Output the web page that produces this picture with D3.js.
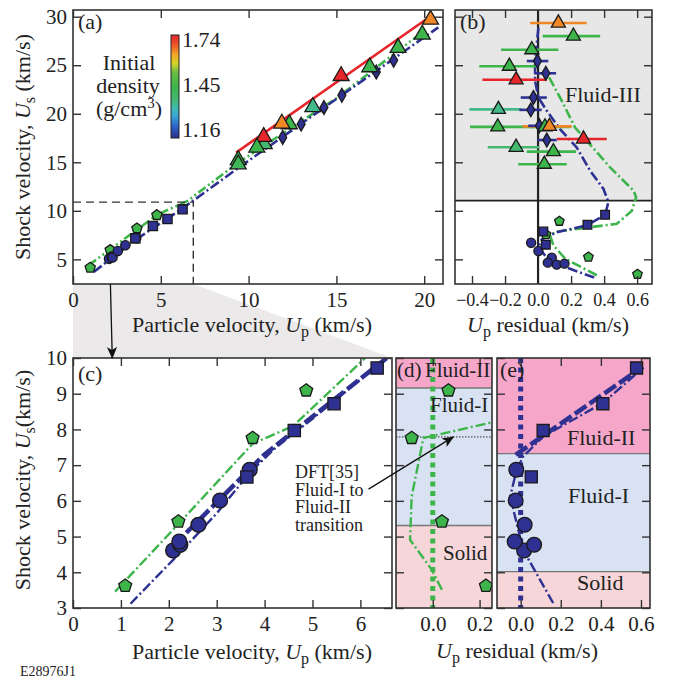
<!DOCTYPE html>
<html>
<head>
<meta charset="utf-8">
<script src="https://cdn.jsdelivr.net/npm/d3@7"></script>
<style>
body { margin: 0; background: #fff; }
text { font-family: "Liberation Serif", "Times New Roman", serif; fill: #222; }
</style>
</head>
<body>
<script>
// ---- data ----

// (a) low-velocity points (Up, Us) as drawn in panel (a)
var upCircA = [2.05, 2.2, 2.25, 2.55, 2.98, 3.6];
var usCircA = [5.05, 5.3, 5.2, 5.85, 6.45, 7.2];
var upSqA = [3.55, 4.55, 5.38, 6.24];
var usSqA = [7.16, 8.43, 9.15, 10.15];
var upPentA = [0.98, 2.12, 3.64, 4.78];
var usPentA = [4.14, 5.96, 8.19, 9.56];

// (a) high-velocity points
var upDia = [11.94, 12.99, 14.29, 15.31, 17.27, 18.26];
var usDia = [17.56, 18.93, 20.64, 21.9, 24.3, 25.5];
var upTri = [20.36, 19.89, 18.51, 16.9, 15.27, 13.66, 12.32, 11.89, 10.89, 10.86, 10.47, 9.41, 9.41];
var usTri = [29.7, 28.17, 26.8, 24.8, 23.9, 20.7, 18.93, 19.0, 16.88, 17.63, 16.53, 15.24, 14.8];
var rhoTri = [1.65, 1.45, 1.45, 1.45, 1.74, 1.36, 1.45, 1.65, 1.38, 1.74, 1.45, 1.45, 1.42];

// (a) fits
var fitGreenA = [[0.9, 4.4], [2.1, 6.0], [3.6, 8.0], [4.8, 9.6], [6.5, 11.0], [9.4, 14.95], [15, 21.6], [20.0, 28.55]];
var fitBlueA = [[1.18, 3.7], [3.55, 7.0], [6.2, 10.2], [9.4, 14.4], [20.8, 28.9]];
var fitRedA = [[9.29, 16.0], [20.36, 30.05]];

// (b) residuals
var usTriB = [29.35, 28.0, 26.6, 24.9, 23.5, 20.45, 18.65, 18.65, 18.7, 17.4, 16.55, 16.1, 14.8];
var resTriB = [0.123, 0.214, -0.038, -0.174, -0.133, -0.24, -0.244, 0.042, 0.069, 0.275, -0.133, 0.093, 0.038];
var loTriB = [-0.048, 0.028, -0.224, -0.356, -0.337, -0.416, -0.412, -0.05, -0.093, 0.113, -0.305, -0.068, -0.12];
var hiTriB = [0.295, 0.376, 0.123, -0.012, 0.053, -0.1, -0.02, 0.2, 0.204, 0.416, 0.008, 0.23, 0.174];
var rhoTriB = [1.65, 1.45, 1.45, 1.45, 1.74, 1.36, 1.45, 1.45, 1.65, 1.74, 1.38, 1.45, 1.45];

var usDiaB = [25.43, 24.17, 21.67, 20.4, 18.76, 17.29];
var resDiaB = [-0.004, 0.047, -0.028, -0.044, 0.008, 0.053];
var loDiaB = [-0.068, -0.024, -0.105, -0.113, -0.06, -0.004];
var hiDiaB = [0.062, 0.109, 0.053, 0.022, 0.07, 0.113];

var usSqB = [9.59, 8.56, 7.87, 6.51];
var resSqB = [0.406, 0.299, 0.032, 0.047];
var usCircB = [6.71, 5.86, 5.17, 4.66, 4.46, 4.56];
var resCircB = [-0.042, 0.002, 0.083, 0.059, 0.113, 0.16];
var usPentB = [8.93, 7.56, 5.24, 3.46];
var resPentB = [0.129, 0.048, 0.305, 0.602];

var fitBlueB = [[0.34, 3.12], [0.164, 4.21], [0.053, 5.17], [0.002, 6.26], [0.022, 7.05], [0.113, 7.8], [0.295, 8.49],
  [0.406, 9.59], [0.426, 10.9], [0.396, 12.26], [0.315, 14.14], [0.234, 16.53], [0.133, 18.42], [0.053, 20.3],
  [0.002, 21.67], [-0.018, 23.38], [-0.018, 25.5], [0.002, 28.85]];
var fitGreenB = [[0.356, 3.36], [0.164, 5.07], [0.093, 6.44], [0.073, 7.46], [0.113, 7.87], [0.477, 8.66],
  [0.568, 10.0], [0.594, 11.4], [0.578, 12.08], [0.436, 14.48], [0.224, 18.58], [0.144, 21.32], [0.062, 23.9]];
var fluid3From = 11.06;

// (c) zoom of low-velocity data
var upCirc = [2.09, 2.24, 2.22, 2.62, 3.07, 3.69];
var usCirc = [4.61, 4.77, 4.86, 5.33, 6.01, 6.87];
var upSq = [3.63, 4.62, 5.45, 6.35];
var usSq = [6.67, 7.97, 8.72, 9.72];
var upPent = [1.09, 2.2, 3.75, 4.87];
var usPent = [3.62, 5.42, 7.76, 9.09];

var fitGreenC = [[0.88, 3.46], [2.2, 5.35], [3.75, 7.6], [4.6, 8.1], [6.1, 10.0]];
var fitBlueThinC = [[1.2, 3.12], [2.2, 4.5], [3.0, 5.65], [3.7, 6.8], [4.2, 7.45], [5.0, 8.3], [6.55, 10.0]];
var fitBlueThickC = [[2.1, 4.75], [4.0, 7.3], [6.55, 10.0]];

// (d) residuals of the green pentagons (same order as usPent)
var resPentD = [0.227, 0.039, -0.09, 0.067];
var fitGreenD = [[0.039, 3.51], [-0.004, 4.07], [-0.097, 4.91], [-0.09, 6.12], [-0.04, 7.76], [-0.019, 7.79], [0.3, 8.27]];
var dftTransition = 7.79;
var bandsD = [["Fluid-II", 9.16, 10], ["Fluid-I", 5.31, 9.16], ["Solid", 3, 5.31]];

// (e) residuals of blue squares and circles (same order as usSq, usCirc)
var resSqE = [0.053, 0.112, 0.41, 0.578];
var resCircE = [0.017, 0.067, -0.03, 0.02, -0.025, -0.022];
var fitBlueThinE = [[0.162, 3.14], [0.012, 4.63], [-0.052, 6.12], [-0.022, 6.83], [0.012, 7.24], [0.112, 7.8], [0.41, 8.74], [0.61, 9.72]];
var fitBlueThickE = [[-0.025, 7.29], [0.61, 9.76]];
var bandsE = [["Fluid-II", 7.32, 10], ["Fluid-I", 4.02, 7.32], ["Solid", 3, 4.02]];

// colour bar
var rhoStops = [1.16, 1.22, 1.28, 1.33, 1.38, 1.45, 1.53, 1.58, 1.63, 1.68, 1.74];
var rhoColors = ["#2b2d8c", "#2d5fc4", "#3aa0d8", "#40bcb0", "#45b870", "#3db54a", "#6cbd45", "#d7d428", "#f3a626", "#ee5a2a", "#e6262a"];

var blue = "#2e3192", green = "#3db54a", red = "#e6262a";
var bandFill = { "Fluid-II": "#f5a6c9", "Fluid-I": "#d8e2f3", "Solid": "#f6d6d9" };

var rhoColor = d3.scaleLinear().domain(rhoStops).range(rhoColors);

var svg = d3.select("body").append("svg")
  .attr("width", 674)
  .attr("height", 681);

var defs = svg.append("defs");
defs.append("marker")
  .attr("id", "arr")
  .attr("viewBox", "0 0 12 10")
  .attr("refX", 11).attr("refY", 5)
  .attr("markerWidth", 12).attr("markerHeight", 10)
  .attr("markerUnits", "userSpaceOnUse")
  .attr("orient", "auto")
  .append("path").attr("d", "M0,0 L12,5 L0,10 L3,5 Z").style("fill", "#111");

// pentagon symbol
var symbolPentagon = {
  draw: function (ctx, size) {
    var r = Math.sqrt(size / 2.378);
    for (var k = 0; k < 5; k++) {
      var a = -Math.PI / 2 + k * 2 * Math.PI / 5;
      if (k === 0) ctx.moveTo(r * Math.cos(a), r * Math.sin(a));
      else ctx.lineTo(r * Math.cos(a), r * Math.sin(a));
    }
    ctx.closePath();
  }
};

function panel(x0, x1, y0, y1, xd, yd, id) {
  var x = d3.scaleLinear().domain(xd).range([x0, x1]);
  var y = d3.scaleLinear().domain(yd).range([y1, y0]);
  defs.append("clipPath").attr("id", id).append("rect")
    .attr("x", x0).attr("y", y0).attr("width", x1 - x0).attr("height", y1 - y0);
  var bg = svg.append("g").attr("clip-path", "url(#" + id + ")");
  var g = svg.append("g").attr("clip-path", "url(#" + id + ")");
  var top = svg.append("g");
  return { x: x, y: y, bg: bg, g: g, top: top, x0: x0, x1: x1, y0: y0, y1: y1 };
}

function axes(p, xt, yt, xfmt, yfmt, fs) {
  var tl = 8, none = function () { return ""; };
  var sides = [
    [d3.axisBottom(p.x).tickValues(xt).tickFormat(xfmt || none), "translate(0," + p.y1 + ")"],
    [d3.axisTop(p.x).tickValues(xt).tickFormat(none), "translate(0," + p.y0 + ")"],
    [d3.axisLeft(p.y).tickValues(yt).tickFormat(yfmt || none), "translate(" + p.x0 + ",0)"],
    [d3.axisRight(p.y).tickValues(yt).tickFormat(none), "translate(" + p.x1 + ",0)"]
  ];
  sides.forEach(function (s, i) {
    var ax = p.top.append("g").attr("transform", s[1])
      .call(s[0].tickSizeInner(-tl).tickSizeOuter(0).tickPadding(i === 2 ? 6 : 8));
    ax.select(".domain").remove();
    ax.selectAll("line").style("stroke", "#333").style("stroke-width", 1.4);
    ax.selectAll("text").style("font-size", (fs || 21) + "px").style("fill", "#222")
      .style("font-family", '"Liberation Serif","Times New Roman",serif');
  });
  p.top.append("rect")
    .attr("x", p.x0).attr("y", p.y0)
    .attr("width", p.x1 - p.x0).attr("height", p.y1 - p.y0)
    .style("fill", "none").style("stroke", "#333").style("stroke-width", 1.6);
}

function drawLine(p, pts, color, width, dash) {
  p.g.append("path").datum(pts)
    .attr("d", d3.line().x(function (d) { return p.x(d[0]); }).y(function (d) { return p.y(d[1]); }))
    .style("fill", "none")
    .style("stroke", color)
    .style("stroke-width", width)
    .style("stroke-dasharray", dash);
}

function marks(p, xs, ys, type, size, fills) {
  p.g.append("g").selectAll("path").data(d3.zip(xs, ys, fills)).join("path")
    .attr("transform", function (d) { return "translate(" + p.x(d[0]) + "," + p.y(d[1]) + ")"; })
    .attr("d", d3.symbol(type, size))
    .style("fill", function (d) { return d[2]; })
    .style("stroke", "#1a1a1a")
    .style("stroke-width", 1.3);
}

function fill(n, c) { return d3.range(n).map(function () { return c; }); }

function label(x, y, txt, size, anchor) {
  return svg.append("text").attr("x", x).attr("y", y)
    .style("font-size", (size || 22) + "px")
    .attr("text-anchor", anchor || "start")
    .text(txt);
}

// axis title with italic U and subscript
function upTitle(t, pre, sub, post) {
  t.append("tspan").text(pre);
  t.append("tspan").style("font-style", "italic").text("U");
  t.append("tspan").attr("dy", 5).style("font-size", "16px").text(sub);
  t.append("tspan").attr("dy", -5).text(post);
}

// ---------- zoom wedge between (a) and (c)
var A = panel(73, 443, 10, 284, [0, 21.07], [2.46, 30.69], "ca");
var C = panel(73, 392, 358, 608, [0, 6.66], [3, 10], "cc");
var zoomBox = [6.85, 10.9];

svg.insert("path", ":first-child")
  .attr("d", d3.line()([[A.x(0), A.y1], [A.x(zoomBox[0]), A.y1], [C.x1, C.y0], [C.x0, C.y0]]))
  .style("fill", "#ebe9ea");

// ---------- panel (a)
drawLine(A, fitRedA, red, 2.6, null);
drawLine(A, fitGreenA, green, 2.6, "9,3,2,3,2,3");
drawLine(A, fitBlueA, blue, 2.6, "10,3,2,3");
marks(A, upPentA, usPentA, symbolPentagon, 70, fill(4, green));
marks(A, upCircA, usCircA, d3.symbolCircle, 68, fill(6, blue));
marks(A, upSqA, usSqA, d3.symbolSquare, 85, fill(4, blue));
marks(A, upDia, usDia, d3.symbolDiamond, 55, fill(6, blue));
marks(A, upTri, usTri, d3.symbolTriangle, 110, rhoTri.map(rhoColor));
A.top.append("path")
  .attr("d", d3.line()([[A.x0, A.y(zoomBox[1])], [A.x(zoomBox[0]), A.y(zoomBox[1])], [A.x(zoomBox[0]), A.y1]]))
  .style("fill", "none").style("stroke", "#333").style("stroke-width", 1.4).style("stroke-dasharray", "8,5");
axes(A, [0, 5, 10, 15, 20], [5, 10, 15, 20, 25, 30], d3.format("d"), d3.format("d"));
label(78, 29, "(a)");

// colour bar
var grad = defs.append("linearGradient").attr("id", "rho")
  .attr("x1", 0).attr("y1", 1).attr("x2", 0).attr("y2", 0);
rhoStops.forEach(function (r, i) {
  grad.append("stop").attr("offset", (r - 1.16) / 0.58).attr("stop-color", rhoColors[i]);
});
svg.append("rect").attr("x", 171).attr("y", 35).attr("width", 8).attr("height", 103)
  .style("fill", "url(#rho)").style("stroke", "#222").style("stroke-width", 1);
label(182, 47, "1.74");
label(182, 92, "1.45");
label(182, 137, "1.16");
label(129, 70, "Initial", 22, "middle");
label(128, 93, "density", 22, "middle");
var gcm = label(129, 116, "(g/cm", 22, "middle");
gcm.append("tspan").attr("dy", -8).style("font-size", "15px").text("3");
gcm.append("tspan").attr("dy", 8).text(")");

upTitle(label(252, 332, "", 22, "middle"), "Particle velocity, ", "p", " (km/s)");
upTitle(label(0, 0, "", 22, "middle").attr("transform", "translate(30,147) rotate(-90)"), "Shock velocity, ", "s", " (km/s)");

// ---------- panel (b)
var B = panel(455, 652, 10, 284, [-0.503, 0.69], [2.46, 30.69], "cb");
B.bg.append("rect").attr("x", B.x0).attr("y", B.y0)
  .attr("width", B.x1 - B.x0).attr("height", B.y(fluid3From) - B.y0)
  .style("fill", "#e7e7e7");
B.g.append("line").attr("x1", B.x(0)).attr("x2", B.x(0)).attr("y1", B.y0).attr("y2", B.y1)
  .style("stroke", "#222").style("stroke-width", 2.2);
B.g.append("line").attr("x1", B.x0).attr("x2", B.x1).attr("y1", B.y(fluid3From)).attr("y2", B.y(fluid3From))
  .style("stroke", "#222").style("stroke-width", 1.8);
drawLine(B, fitGreenB, green, 2.6, "10,3,2,3");
drawLine(B, fitBlueB, blue, 2.6, "10,3,2,3");

B.g.append("g").selectAll("line").data(d3.zip(usTriB, loTriB, hiTriB, rhoTriB)).join("line")
  .attr("x1", function (d) { return B.x(d[1]); })
  .attr("x2", function (d) { return B.x(d[2]); })
  .attr("y1", function (d) { return B.y(d[0]); })
  .attr("y2", function (d) { return B.y(d[0]); })
  .style("stroke", function (d) { return rhoColor(d[3]); })
  .style("stroke-width", 2.6);
B.g.append("g").selectAll("line").data(d3.zip(usDiaB, loDiaB, hiDiaB)).join("line")
  .attr("x1", function (d) { return B.x(d[1]); })
  .attr("x2", function (d) { return B.x(d[2]); })
  .attr("y1", function (d) { return B.y(d[0]); })
  .attr("y2", function (d) { return B.y(d[0]); })
  .style("stroke", blue)
  .style("stroke-width", 2.6);

marks(B, resPentB, usPentB, symbolPentagon, 60, fill(4, green));
marks(B, resCircB, usCircB, d3.symbolCircle, 65, fill(6, blue));
marks(B, resSqB, usSqB, d3.symbolSquare, 75, fill(4, blue));
marks(B, resDiaB, usDiaB, d3.symbolDiamond, 55, fill(6, blue));
marks(B, resTriB, usTriB, d3.symbolTriangle, 85, rhoTriB.map(rhoColor));
axes(B, [-0.4, -0.2, 0.2, 0.4, 0.6], [5, 10, 15, 20, 25, 30], null, null, 18);
B.top.append("g").attr("transform", "translate(0," + B.y1 + ")")
  .call(d3.axisBottom(B.x).tickValues([-0.4, -0.2, 0, 0.2, 0.4, 0.6]).tickSize(0).tickPadding(9).tickFormat(d3.format(".1f")))
  .call(function (g) { g.select(".domain").remove(); })
  .selectAll("text").style("font-size", "18px").style("fill", "#222")
  .style("font-family", '"Liberation Serif","Times New Roman",serif');
label(460, 29, "(b)");
label(565, 102, "Fluid-III");
upTitle(label(548, 332, "", 22, "middle"), "", "p", " residual (km/s)");

// ---------- panel (c)
drawLine(C, fitGreenC, green, 2.4, "10,3,2,3");
drawLine(C, fitBlueThickC, blue, 4.5, "14,4");
drawLine(C, fitBlueThinC, blue, 2.4, "10,3,2,3");
marks(C, upPent, usPent, symbolPentagon, 110, fill(4, green));
marks(C, upCirc, usCirc, d3.symbolCircle, 175, fill(6, blue));
marks(C, upSq, usSq, d3.symbolSquare, 150, fill(4, blue));
axes(C, d3.range(0, 7), d3.range(3, 11), d3.format("d"), d3.format("d"));
label(78, 381, "(c)");
upTitle(label(252, 659, "", 22, "middle"), "Particle velocity, ", "p", " (km/s)");
upTitle(label(0, 0, "", 22, "middle").attr("transform", "translate(30,480) rotate(-90)"), "Shock velocity, ", "s", "(km/s)");
["DFT[35]", "Fluid-I to", "Fluid-II", "transition"].forEach(function (t, i) {
  label(295, 478 + i * 17.7, t, 18);
});
label(20, 676, "E28976J1", 14);

// ---------- panel (d)
var D = panel(396, 492, 358, 608, [-0.157, 0.253], [3, 10], "cd");
function bands(p, list) {
  p.bg.selectAll("rect").data(list).join("rect")
    .attr("x", p.x0).attr("width", p.x1 - p.x0)
    .attr("y", function (d) { return p.y(d[2]); })
    .attr("height", function (d) { return p.y(d[1]) - p.y(d[2]); })
    .style("fill", function (d) { return bandFill[d[0]]; });
  p.bg.selectAll("line").data(list.slice(1)).join("line")
    .attr("x1", p.x0).attr("x2", p.x1)
    .attr("y1", function (d) { return p.y(d[2]); })
    .attr("y2", function (d) { return p.y(d[2]); })
    .style("stroke", "#777").style("stroke-width", 1.3);
}
bands(D, bandsD);
D.g.append("line").attr("x1", D.x0).attr("x2", D.x1).attr("y1", D.y(dftTransition)).attr("y2", D.y(dftTransition))
  .style("stroke", "#333").style("stroke-width", 1).style("stroke-dasharray", "1.5,1.5");
D.g.append("line").attr("x1", D.x(0)).attr("x2", D.x(0)).attr("y1", D.y0).attr("y2", D.y1)
  .style("stroke", green).style("stroke-width", 5).style("stroke-dasharray", "5,4.5");
drawLine(D, fitGreenD, green, 2.4, "10,3,2,3");
marks(D, resPentD, usPent, symbolPentagon, 110, fill(4, green));
axes(D, [0, 0.2], d3.range(3, 11), d3.format(".1f"), null);
label(397, 377, "(d)", 21);
label(425, 377, "Fluid-II", 21);
label(430, 412, "Fluid-I", 21);
label(443, 560, "Solid", 21);

// ---------- panel (e)
var E = panel(497, 650, 358, 608, [-0.118, 0.645], [3, 10], "ce");
bands(E, bandsE);
E.g.append("line").attr("x1", E.x(0)).attr("x2", E.x(0)).attr("y1", E.y0).attr("y2", E.y1)
  .style("stroke", blue).style("stroke-width", 5).style("stroke-dasharray", "5,4.5");
drawLine(E, fitBlueThickE, blue, 4.5, "14,4");
drawLine(E, fitBlueThinE, blue, 2.4, "10,3,2,3");
marks(E, resSqE, usSq, d3.symbolSquare, 145, fill(4, blue));
marks(E, resCircE, usCirc, d3.symbolCircle, 170, fill(6, blue));
axes(E, [0, 0.2, 0.4, 0.6], d3.range(3, 11), d3.format(".1f"), null);
label(500, 377, "(e)", 22);
label(567, 445, "Fluid-II", 22);
label(568, 503, "Fluid-I", 22);
label(577, 590, "Solid", 22);
upTitle(label(517, 658, "", 22, "middle"), "", "p", " residual (km/s)");

// ---------- arrows
svg.append("line")
  .attr("x1", A.x(2.13)).attr("y1", A.y1)
  .attr("x2", C.x(0.82)).attr("y2", C.y0)
  .style("stroke", "#111").style("stroke-width", 1.3)
  .attr("marker-end", "url(#arr)");
svg.append("line")
  .attr("x1", C.x(6.17)).attr("y1", C.y(6.33))
  .attr("x2", D.x(0.088)).attr("y2", D.y(dftTransition))
  .style("stroke", "#111").style("stroke-width", 1.3)
  .attr("marker-end", "url(#arr)");
</script>
</body>
</html>
